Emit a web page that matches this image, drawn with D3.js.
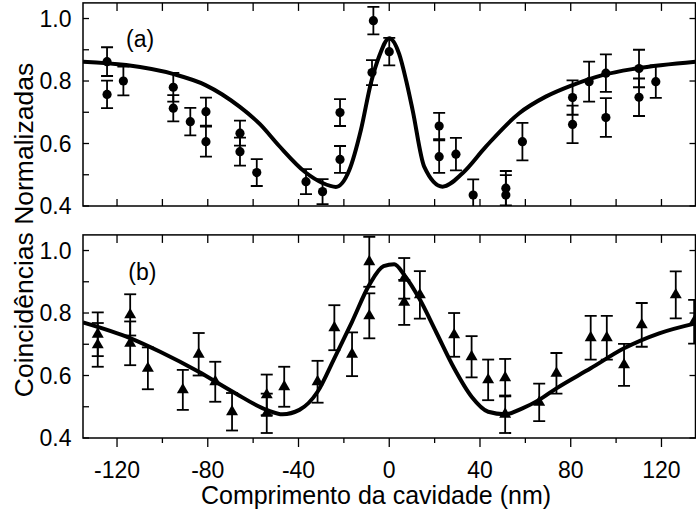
<!DOCTYPE html>
<html>
<head>
<meta charset="utf-8">
<script src="https://cdn.jsdelivr.net/npm/d3@7"></script>
<style>
  html, body { margin: 0; padding: 0; background: #fff; }
  svg { display: block; }
  text { font-family: "Liberation Sans", Arial, Helvetica, sans-serif; fill: #000; }
</style>
</head>
<body>
<svg id="chart" width="696" height="509"></svg>
<script>
// ---- Data ----
// Panel (a): circles with error bars
const aX   = [-124.4, -124.4, -117.2, -95.2, -95.2, -87.7, -80.8, -80.8, -65.8, -65.8, -58.4, -36.7, -29.4, -21.7, -21.7, -7.0, -7.6, 0.0, 22.0, 22.0, 29.4, 37.0, 51.4, 51.4, 58.7, 80.8, 80.8, 88.1, 95.5, 95.5, 110.1, 110.1, 117.5];
const aY   = [0.862, 0.757, 0.800, 0.780, 0.713, 0.670, 0.702, 0.606, 0.633, 0.574, 0.507, 0.478, 0.446, 0.699, 0.549, 0.993, 0.827, 0.894, 0.656, 0.558, 0.566, 0.435, 0.457, 0.435, 0.606, 0.747, 0.661, 0.798, 0.825, 0.683, 0.840, 0.748, 0.798];
const aErr = [0.046, 0.044, 0.046, 0.046, 0.042, 0.044, 0.045, 0.048, 0.040, 0.045, 0.043, 0.040, 0.040, 0.043, 0.043, 0.044, 0.040, 0.044, 0.042, 0.052, 0.052, 0.050, 0.055, 0.064, 0.060, 0.055, 0.060, 0.064, 0.060, 0.062, 0.060, 0.060, 0.052];

// Panel (a): fitted curve
const aCurveX = [-135, -116, -95, -81, -66, -57, -48.5, -37, -29.5, -23.5, -17.6, -12.5, -8.1, -4.4, 0, 4.4, 7.5, 10.3, 15.4, 23.5, 32.3, 42.6, 57.3, 69, 80.8, 94, 108.7, 135];
const aCurveY = [0.862, 0.851, 0.822, 0.787, 0.718, 0.662, 0.592, 0.508, 0.474, 0.461, 0.515, 0.643, 0.793, 0.880, 0.937, 0.886, 0.800, 0.707, 0.526, 0.462, 0.505, 0.590, 0.697, 0.750, 0.787, 0.819, 0.840, 0.862];

// Panel (b): triangles with error bars
const bX   = [-128.5, -128.5, -114.2, -114.2, -106.4, -91.0, -84.0, -76.7, -69.3, -54.0, -54.0, -46.3, -31.6, -24.2, -16.4, -8.8, -8.8, 6.6, 6.6, 13.5, 28.6, 36.3, 43.6, 51.1, 51.1, 66.1, 73.7, 88.8, 95.9, 103.5, 111.3, 126.3, 134.4];
const bY   = [0.732, 0.698, 0.794, 0.703, 0.623, 0.554, 0.668, 0.580, 0.484, 0.538, 0.479, 0.564, 0.580, 0.753, 0.668, 0.964, 0.791, 0.911, 0.834, 0.858, 0.730, 0.660, 0.586, 0.593, 0.476, 0.514, 0.607, 0.721, 0.721, 0.634, 0.762, 0.858, 0.772];
const bErr = [0.070, 0.070, 0.066, 0.070, 0.067, 0.064, 0.068, 0.064, 0.060, 0.065, 0.063, 0.064, 0.067, 0.072, 0.070, 0.080, 0.072, 0.065, 0.072, 0.076, 0.070, 0.066, 0.065, 0.060, 0.060, 0.060, 0.065, 0.070, 0.070, 0.067, 0.070, 0.075, 0.070];

// Panel (b): fitted curve
const bCurveX = [-135, -114, -101, -84, -69, -54, -47, -39.6, -31.6, -24.2, -16.4, -8.8, -2.5, 2.2, 6.6, 13.2, 20.6, 28.6, 36.3, 43.6, 51.1, 58.7, 66.1, 73.7, 88.8, 103.5, 119, 135];
const bCurveY = [0.770, 0.719, 0.676, 0.612, 0.548, 0.490, 0.476, 0.490, 0.548, 0.655, 0.772, 0.890, 0.950, 0.956, 0.922, 0.847, 0.740, 0.623, 0.532, 0.484, 0.476, 0.495, 0.522, 0.559, 0.623, 0.687, 0.735, 0.767];

// Axis ticks and labels
const xDomain = [-135, 135];
const yDomain = [0.4, 1.05];
const xTickLabels = [-120, -80, -40, 0, 40, 80, 120];
const xMinorTicks = [-120, -100, -80, -60, -40, -20, 0, 20, 40, 60, 80, 100, 120];
const yTickLabels = [0.4, 0.6, 0.8, 1.0];
const yMinorTicks = [0.4, 0.5, 0.6, 0.7, 0.8, 0.9, 1.0];
const panelLabels = ["(a)", "(b)"];
const xTitle = "Comprimento da cavidade (nm)";
const yTitle = "Coincidências Normalizadas";

// ---- Drawing ----
const svg = d3.select("#chart");
const x = d3.scaleLinear().domain(xDomain).range([83, 695.5]);
const panels = [
  { id: "a", y: d3.scaleLinear().domain(yDomain).range([206, 2.9]),
    px: aX, py: aY, pe: aErr, cx: aCurveX, cy: aCurveY, sym: "circle",
    label: panelLabels[0], labelX: -116, labelDy: 43.6, bottomLabels: false },
  { id: "b", y: d3.scaleLinear().domain(yDomain).range([438, 234.9]),
    px: bX, py: bY, pe: bErr, cx: bCurveX, cy: bCurveY, sym: "triangle",
    label: panelLabels[1], labelX: -115, labelDy: 45.5, bottomLabels: true }
];

const FS = 23;

panels.forEach(p => {
  const y = p.y;
  const x0 = x(xDomain[0]), x1 = x(xDomain[1]);
  const y0 = y(yDomain[0]), y1 = y(yDomain[1]);

  svg.append("clipPath").attr("id", "clip-" + p.id)
    .append("rect").attr("x", x0).attr("y", y1).attr("width", x1 - x0).attr("height", y0 - y1);

  const g = svg.append("g").attr("clip-path", "url(#clip-" + p.id + ")");

  // curve
  const line = d3.line().x(d => x(d[0])).y(d => y(d[1])).curve(d3.curveMonotoneX);
  g.append("path")
    .datum(p.cx.map((v, i) => [v, p.cy[i]]))
    .attr("d", line)
    .attr("fill", "none").attr("stroke", "#000").attr("stroke-width", 4)
    .attr("stroke-linejoin", "round");

  // error bars
  const pts = p.px.map((v, i) => ({ x: v, y: p.py[i], e: p.pe[i] }));
  const eb = g.append("g").attr("stroke", "#000").attr("stroke-width", 1.8).attr("fill", "none");
  pts.forEach(d => {
    const cxp = x(d.x);
    const top = y(d.y + d.e), bot = y(d.y - d.e);
    eb.append("line").attr("x1", cxp).attr("x2", cxp).attr("y1", top).attr("y2", bot);
    eb.append("line").attr("x1", cxp - 6).attr("x2", cxp + 6).attr("y1", top).attr("y2", top);
    eb.append("line").attr("x1", cxp - 6).attr("x2", cxp + 6).attr("y1", bot).attr("y2", bot);
  });

  // markers
  if (p.sym === "circle") {
    g.selectAll("circle.pt").data(pts).enter().append("circle")
      .attr("cx", d => x(d.x)).attr("cy", d => y(d.y)).attr("r", 4.6).attr("fill", "#000");
  } else {
    const sym = d3.symbol().type(d3.symbolTriangle).size(62);
    g.selectAll("path.pt").data(pts).enter().append("path")
      .attr("d", sym).attr("transform", d => `translate(${x(d.x)},${y(d.y)})`).attr("fill", "#000");
  }

  // frame
  svg.append("rect").attr("x", x0).attr("y", y1).attr("width", x1 - x0).attr("height", y0 - y1)
    .attr("fill", "none").attr("stroke", "#000").attr("stroke-width", 1.5);

  const tk = svg.append("g").attr("stroke", "#000").attr("stroke-width", 1.3);
  // top ticks (inward)
  xMinorTicks.forEach(v => {
    tk.append("line").attr("x1", x(v)).attr("x2", x(v)).attr("y1", y1).attr("y2", y1 + 8);
  });
  // bottom ticks
  xMinorTicks.forEach(v => {
    if (p.bottomLabels) {
      const major = xTickLabels.includes(v);
      tk.append("line").attr("x1", x(v)).attr("x2", x(v)).attr("y1", y0).attr("y2", y0 + (major ? 9 : 5));
    } else {
      tk.append("line").attr("x1", x(v)).attr("x2", x(v)).attr("y1", y0).attr("y2", y0 - 7);
    }
  });
  // left ticks (inward)
  yMinorTicks.forEach(v => {
    tk.append("line").attr("x1", x0).attr("x2", x0 + 6).attr("y1", y(v)).attr("y2", y(v));
  });
  // right ticks (inward)
  yTickLabels.forEach(v => {
    tk.append("line").attr("x1", x1).attr("x2", x1 - 6).attr("y1", y(v)).attr("y2", y(v));
  });

  // y tick labels
  svg.append("g").selectAll("text").data(yTickLabels).enter().append("text")
    .attr("x", 71.5).attr("y", d => y(d)).attr("dy", "0.36em")
    .attr("text-anchor", "end").attr("font-size", FS)
    .text(d => d3.format(".1f")(d));

  // x tick labels
  if (p.bottomLabels) {
    svg.append("g").selectAll("text").data(xTickLabels).enter().append("text")
      .attr("x", d => x(d)).attr("y", 478)
      .attr("text-anchor", "middle").attr("font-size", FS)
      .text(d => d);
  }

  // panel label
  svg.append("text").attr("x", x(p.labelX)).attr("y", y(yDomain[1]) + p.labelDy)
    .attr("font-size", FS).text(p.label);
});

// axis titles
svg.append("text").attr("x", 376).attr("y", 503.5).attr("text-anchor", "middle")
  .attr("font-size", 25).text(xTitle);
svg.append("text").attr("transform", "translate(32.5,230) rotate(-90)").attr("text-anchor", "middle")
  .attr("font-size", 26.5).text(yTitle);
</script>
</body>
</html>
